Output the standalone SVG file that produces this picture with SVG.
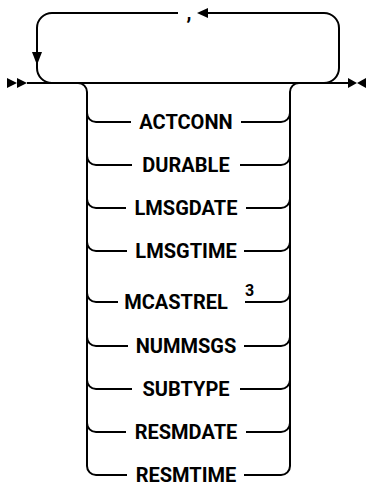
<svg xmlns="http://www.w3.org/2000/svg" width="367" height="485" viewBox="0 0 367 485">
<style>
.ln{fill:none;stroke:#000;stroke-width:2}
.ah{fill:#000;stroke:none}
.kw{font-family:Roboto,"Liberation Sans",sans-serif;font-weight:bold;font-size:20px;fill:#000;text-anchor:middle}
.sup{font-family:Roboto,"Liberation Sans",sans-serif;font-weight:bold;font-size:16px;fill:#000}
</style>
<rect width="367" height="485" fill="#fff"/>
<g id="connectors">
  <path class="ln" d="M27,83 H348"/>
  <polygon class="ah" points="7,78 17,83 7,88"/>
  <polygon class="ah" points="17,78 27,83 17,88"/>
  <polygon class="ah" points="348,78 357,83 348,88"/>
  <polygon class="ah" points="366,78 357,83 366,88"/>
  <!-- repeat loop -->
  <path class="ln" d="M52,83 A15,15 0 0 1 37,68 V28 A15,15 0 0 1 52,13 H178"/>
  <path class="ln" d="M208,13 H324 A15,15 0 0 1 339,28 V68 A15,15 0 0 1 324,83"/>
  <polygon class="ah" points="32,52 42,52 37,65"/>
  <polygon class="ah" points="197,13 208,8 208,18"/>
  <!-- choice branches -->
  <path class="ln" d="M78,83 A9,9 0 0 1 87,92 V466 A9,9 0 0 0 96,475"/>
  <path class="ln" d="M281,475 A9,9 0 0 0 290,466 V92 A9,9 0 0 1 299,83"/>
  <path class="ln" d="M87,113 A9,9 0 0 0 96,122 H131 M241,122 H281 A9,9 0 0 0 290,113"/>
  <path class="ln" d="M87,156 A9,9 0 0 0 96,165 H132 M240,165 H281 A9,9 0 0 0 290,156"/>
  <path class="ln" d="M87,199 A9,9 0 0 0 96,208 H126 M246,208 H281 A9,9 0 0 0 290,199"/>
  <path class="ln" d="M87,242 A9,9 0 0 0 96,251 H127 M244,251 H281 A9,9 0 0 0 290,242"/>
  <path class="ln" d="M87,293 A9,9 0 0 0 96,302 H118 M245,302 H281 A9,9 0 0 0 290,293"/>
  <path class="ln" d="M87,337 A9,9 0 0 0 96,346 H128 M244,346 H281 A9,9 0 0 0 290,337"/>
  <path class="ln" d="M87,380 A9,9 0 0 0 96,389 H132 M240,389 H281 A9,9 0 0 0 290,380"/>
  <path class="ln" d="M87,423 A9,9 0 0 0 96,432 H126 M246,432 H281 A9,9 0 0 0 290,423"/>
  <path class="ln" d="M96,475 H127 M244,475 H281"/>
</g>
<g id="sep"><text class="kw" x="189" y="19">,</text></g>
<g id="actconn"><text class="kw" x="186" y="129">ACTCONN</text></g>
<g id="durable"><text class="kw" x="186" y="172">DURABLE</text></g>
<g id="lmsgdate"><text class="kw" x="186" y="215">LMSGDATE</text></g>
<g id="lmsgtime"><text class="kw" x="186" y="258">LMSGTIME</text></g>
<g id="mcastrel"><text class="kw" x="176" y="309">MCASTREL</text><text class="sup" x="245" y="296">3</text></g>
<g id="nummsgs"><text class="kw" x="186" y="353">NUMMSGS</text></g>
<g id="subtype"><text class="kw" x="186" y="396">SUBTYPE</text></g>
<g id="resmdate"><text class="kw" x="186" y="439">RESMDATE</text></g>
<g id="resmtime"><text class="kw" x="186" y="482">RESMTIME</text></g>
</svg>
